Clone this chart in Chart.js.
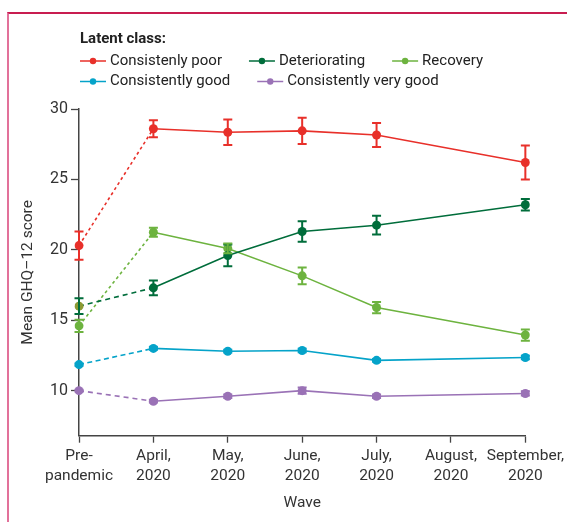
<!DOCTYPE html>
<html>
<head>
<meta charset="utf-8">
<script src="https://cdn.jsdelivr.net/npm/chart.js@4/dist/chart.umd.min.js"></script>
<style>
  body { margin: 0; background: #fff; }
  #wrap { position: relative; width: 567px; height: 522px; }
  #frame {
    position: absolute; left: 7px; top: 12px; right: 0; bottom: 0;
    border-top: 2px solid #c81d50; border-left: 2px solid #e2719a;
    pointer-events: none;
  }
</style>
</head>
<body>
<div id="wrap">
  <canvas id="chartGHQ"></canvas>
  <div id="frame"></div>
</div>
<script>
const waves = [['Pre-', 'pandemic'], ['April,', '2020'], ['May,', '2020'], ['June,', '2020'],
    ['July,', '2020'], ['August,', '2020'], ['September,', '2020']];
const yTickValues = [10, 15, 20, 25, 30];

// mean GHQ-12 score per wave (no survey in August)
const poor = [20.3, 28.6, 28.35, 28.45, 28.15, null, 26.2];
const poor_err = [1.0, 0.6, 0.9, 0.93, 0.85, null, 1.2];
const deteriorating = [16.0, 17.3, 19.6, 21.3, 21.75, null, 23.2];
const deteriorating_err = [0.56, 0.53, 0.77, 0.72, 0.67, null, 0.4];
const recovery = [14.6, 21.25, 20.1, 18.15, 15.9, null, 13.95];
const recovery_err = [0.43, 0.32, 0.35, 0.6, 0.4, null, 0.4];
const good = [11.85, 13.0, 12.8, 12.85, 12.15, null, 12.35];
const good_err = [0.08, 0.1, 0.1, 0.12, 0.1, null, 0.12];
const veryGood = [10.0, 9.25, 9.6, 10.0, 9.6, null, 9.8];
const veryGood_err = [0.06, 0.1, 0.12, 0.22, 0.12, null, 0.15];

const FONT = 'Roboto, sans-serif';

function series(label, data, err, color, dash, firstPoint) {
    return {
        label: label,
        data: data,
        errors: err,
        borderColor: color,
        backgroundColor: color,
        pointBackgroundColor: (c) => (c.dataIndex === 0 && firstPoint) ? firstPoint : color,
        pointBorderWidth: 0,
        pointRadius: 4.5,
        pointHoverRadius: 4.5,
        borderWidth: 1.6,
        spanGaps: true,
        segment: {
            borderDash: (c) => c.p0DataIndex === 0 ? dash : undefined
        }
    };
}

// vertical error bars with caps
const errorBars = {
    id: 'errorBars',
    afterDatasetsDraw(chart) {
        const ctx = chart.ctx;
        const y = chart.scales.y;
        chart.data.datasets.forEach((ds, i) => {
            const meta = chart.getDatasetMeta(i);
            ctx.save();
            ctx.strokeStyle = ds.borderColor;
            ctx.lineWidth = 2;
            meta.data.forEach((pt, j) => {
                const v = ds.data[j], e = ds.errors[j];
                if (v == null || !e) return;
                const top = y.getPixelForValue(v + e);
                const bot = y.getPixelForValue(v - e);
                ctx.beginPath();
                ctx.moveTo(pt.x, top); ctx.lineTo(pt.x, bot);
                ctx.moveTo(pt.x - 4.5, top); ctx.lineTo(pt.x + 4.5, top);
                ctx.moveTo(pt.x - 4.5, bot); ctx.lineTo(pt.x + 4.5, bot);
                ctx.stroke();
            });
            ctx.restore();
        });
    }
};

// two-row legend with a heading above the plot
const classLegend = {
    id: 'classLegend',
    afterDraw(chart) {
        const ctx = chart.ctx;
        ctx.save();
        ctx.fillStyle = '#222';
        ctx.textBaseline = 'middle';
        ctx.font = 'bold 15px ' + FONT;
        ctx.fillText('Latent class:', 80, 39);
        ctx.font = '15px ' + FONT;
        let x = 80, row = 61;
        chart.data.datasets.forEach((ds, i) => {
            if (i === 3) { x = 80; row = 81.5; }
            ctx.strokeStyle = ds.borderColor;
            ctx.lineWidth = 1.5;
            ctx.beginPath();
            ctx.moveTo(x, row); ctx.lineTo(x + 26, row);
            ctx.stroke();
            ctx.fillStyle = ds.borderColor;
            ctx.beginPath();
            ctx.arc(x + 13, row, 3.2, 0, Math.PI * 2);
            ctx.fill();
            ctx.fillStyle = '#222';
            ctx.fillText(ds.label, x + 30, row);
            x += 30 + ctx.measureText(ds.label).width + 27;
        });
        ctx.restore();
    }
};

const ctx_ghq = document.getElementById('chartGHQ').getContext('2d');

const chart_ghq = new Chart(ctx_ghq, {
    type: 'line',
    data: {
        labels: waves,
        datasets: [
            series('Consistenly poor', poor, poor_err, '#e8302a', [3, 3]),
            series('Deteriorating', deteriorating, deteriorating_err, '#006d3b', [5, 4], '#8c9a33'),
            series('Recovery', recovery, recovery_err, '#6db33f', [3, 3]),
            series('Consistently good', good, good_err, '#05a3c9', [5, 3.5]),
            series('Consistently very good', veryGood, veryGood_err, '#9a72b6', [5, 4])
        ]
    },
    options: {
        responsive: true,
        maintainAspectRatio: false,
        animation: false,
        layout: { padding: { top: 109, left: 0, right: 39.5, bottom: 0 } },
        plugins: { legend: { display: false }, tooltip: { enabled: false } },
        scales: {
            x: {
                offset: false,
                afterFit: (s) => { s.height = 86.3; },
                grid: { drawOnChartArea: false, color: '#444', tickLength: 7, tickWidth: 1.3 },
                border: { color: '#444', width: 1.5 },
                ticks: { color: '#333', padding: 3, maxRotation: 0, autoSkip: false,
                         font: { family: FONT, size: 15.5, lineHeight: '20px' } },
                title: { display: true, text: 'Wave', color: '#333', padding: { top: 0, bottom: 10 },
                         font: { family: FONT, size: 15.5 } }
            },
            y: {
                min: 6.8,
                max: 30,
                afterFit: (s) => { s.width = 79; },
                afterBuildTicks: (s) => { s.ticks = yTickValues.map(v => ({ value: v })); },
                grid: { drawOnChartArea: false, color: '#444', tickLength: 8, tickWidth: 1.3 },
                border: { color: '#444', width: 1.5 },
                ticks: { color: '#333', padding: 3, font: { family: FONT, size: 16 } },
                title: { display: true, text: 'Mean GHQ–12 score', color: '#333', padding: { top: 19, bottom: 0 },
                         font: { family: FONT, size: 15.5 } }
            }
        }
    },
    plugins: [errorBars, classLegend]
});
</script>
</body>
</html>
